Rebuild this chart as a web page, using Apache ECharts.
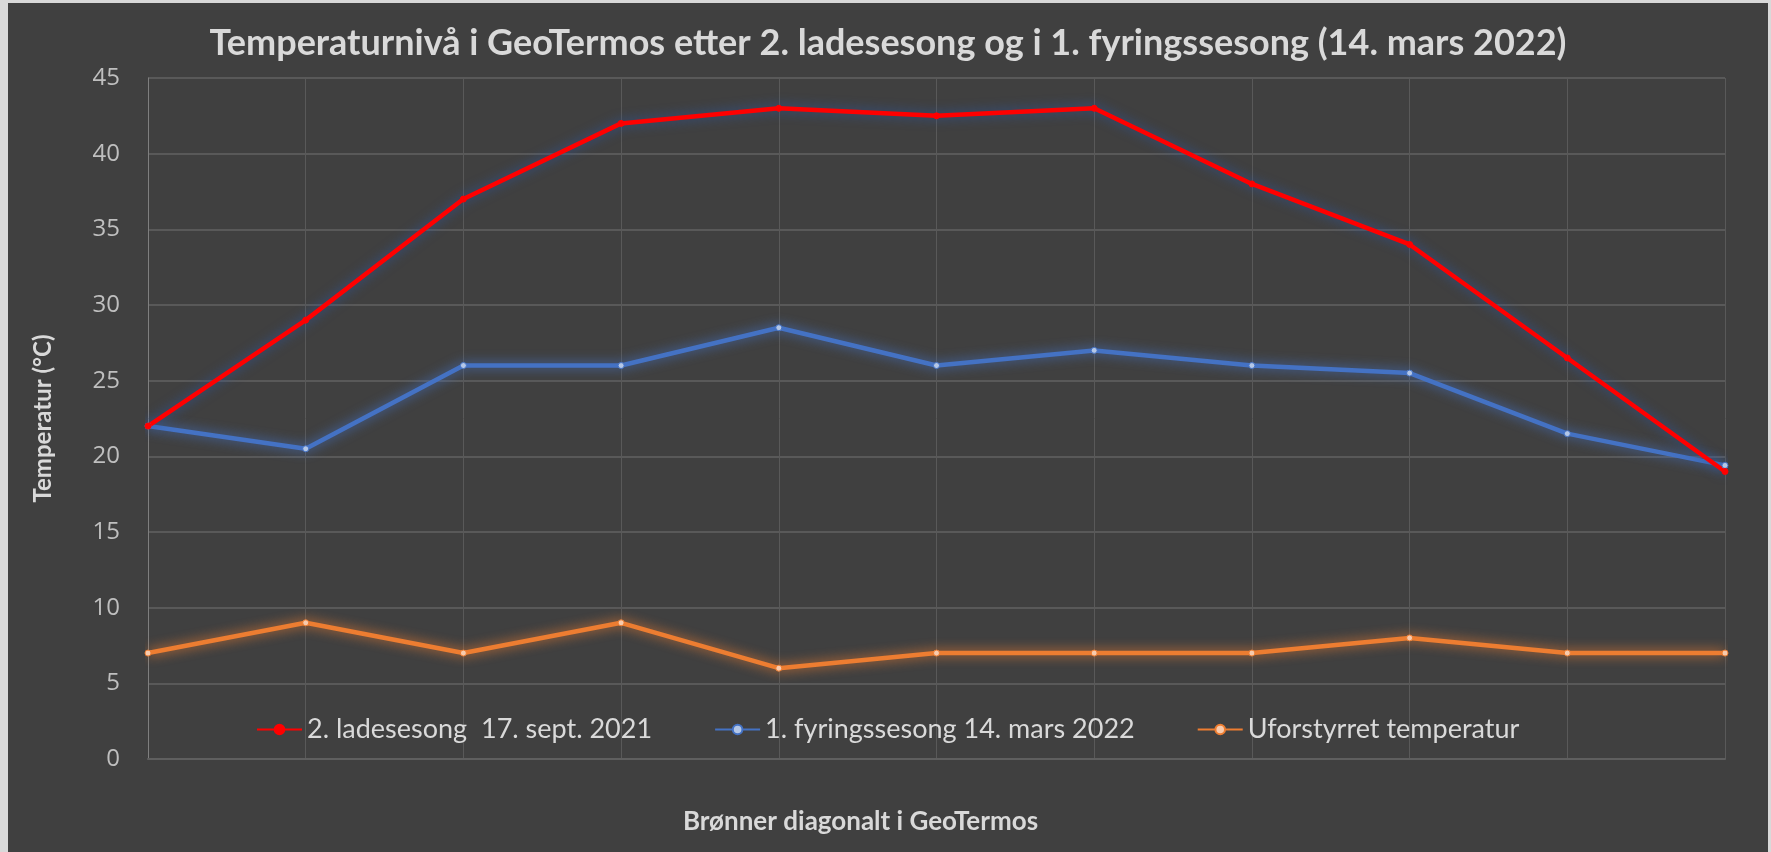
<!DOCTYPE html>
<html>
<head>
<meta charset="utf-8">
<script src="https://cdn.jsdelivr.net/npm/echarts@6/dist/echarts.min.js"></script>
<style>
    html, body { margin: 0; padding: 0; background: #d9d9d9; }
    #chart { position: absolute; left: 8px; top: 3px; width: 1760px; height: 849px; }
</style>
</head>
<body>
<div id="chart"></div>
<script>
    // bronner langs diagonalen (ingen etiketter pa x-aksen)
    var bronner = ['1', '2', '3', '4', '5', '6', '7', '8', '9', '10', '11'];
    var ladesesong = [22, 29, 37, 42, 43, 42.5, 43, 38, 34, 26.5, 19];
    var fyringssesong = [22, 20.5, 26, 26, 28.5, 26, 27, 26, 25.5, 21.5, 19.4];
    var uforstyrret = [7, 9, 7, 9, 6, 7, 7, 7, 8, 7, 7];
    var yTicks = [0, 45, 5]; // min, max, intervall

    var chart = echarts.init(document.getElementById('chart'));
    var fontName = 'Lato';

    function lineSerie(name, data, color, symbolColor, glow, width) {
        return {
            name: name,
            type: 'line',
            data: data,
            symbol: 'circle',
            symbolSize: 6,
            itemStyle: { color: symbolColor, borderColor: color, borderWidth: 1 },
            lineStyle: {
                color: color,
                width: width,
                shadowColor: glow,
                shadowBlur: 12
            },
            emphasis: { disabled: true }
        };
    }

    var option = {
        backgroundColor: '#404040',
        animation: false,
        title: {
            text: 'Temperaturnivå i GeoTermos etter 2. ladesesong og i 1. fyringssesong (14. mars 2022)',
            left: 'center',
            top: 17,
            textStyle: { color: '#d9d9d9', fontFamily: fontName, fontSize: 36, fontWeight: 'bold' }
        },
        legend: {
            left: 243,
            top: 708,
            itemWidth: 45,
            itemHeight: 12,
            itemGap: 62,
            textStyle: { color: '#d9d9d9', fontFamily: fontName, fontSize: 27 },
            data: ['2. ladesesong  17. sept. 2021', '1. fyringssesong 14. mars 2022', 'Uforstyrret temperatur']
        },
        grid: { left: 140, right: 43, top: 75, bottom: 93 },
        xAxis: {
            type: 'category',
            data: bronner,
            boundaryGap: false,
            name: 'Brønner diagonalt i GeoTermos',
            nameLocation: 'middle',
            nameGap: 50,
            nameTextStyle: { color: '#d9d9d9', fontFamily: fontName, fontSize: 26, fontWeight: 'bold', padding: [0, 152, 0, 0] },
            axisLine: { lineStyle: { color: '#5f5f5f', width: 2 } },
            axisTick: { show: false },
            axisLabel: { show: false },
            splitLine: { show: true, lineStyle: { color: '#595959', width: 1 } }
        },
        yAxis: {
            type: 'value',
            min: yTicks[0],
            max: yTicks[1],
            interval: yTicks[2],
            name: 'Temperatur (°C)',
            nameLocation: 'middle',
            nameGap: 93,
            nameTextStyle: { color: '#d9d9d9', fontFamily: fontName, fontSize: 24, fontWeight: 'bold' },
            axisLine: { show: true, lineStyle: { color: '#7f7f7f', width: 1 } },
            axisTick: { show: false },
            axisLabel: { color: '#bfbfbf', fontFamily: 'Open Sans', fontSize: 24, margin: 28 },
            splitLine: { lineStyle: { color: '#595959', width: 2 } }
        },
        series: [
            lineSerie('Uforstyrret temperatur', uforstyrret, '#ed7d31', '#f8cbad', '#ed7d31', 4.5),
            lineSerie('1. fyringssesong 14. mars 2022', fyringssesong, '#4472c4', '#b4c7e7', '#4472c4', 4.5),
            lineSerie('2. ladesesong  17. sept. 2021', ladesesong, '#ff0000', '#ff0000', '#2f5597', 4.5)
        ]
    };
    chart.setOption(option);
</script>
</body>
</html>
